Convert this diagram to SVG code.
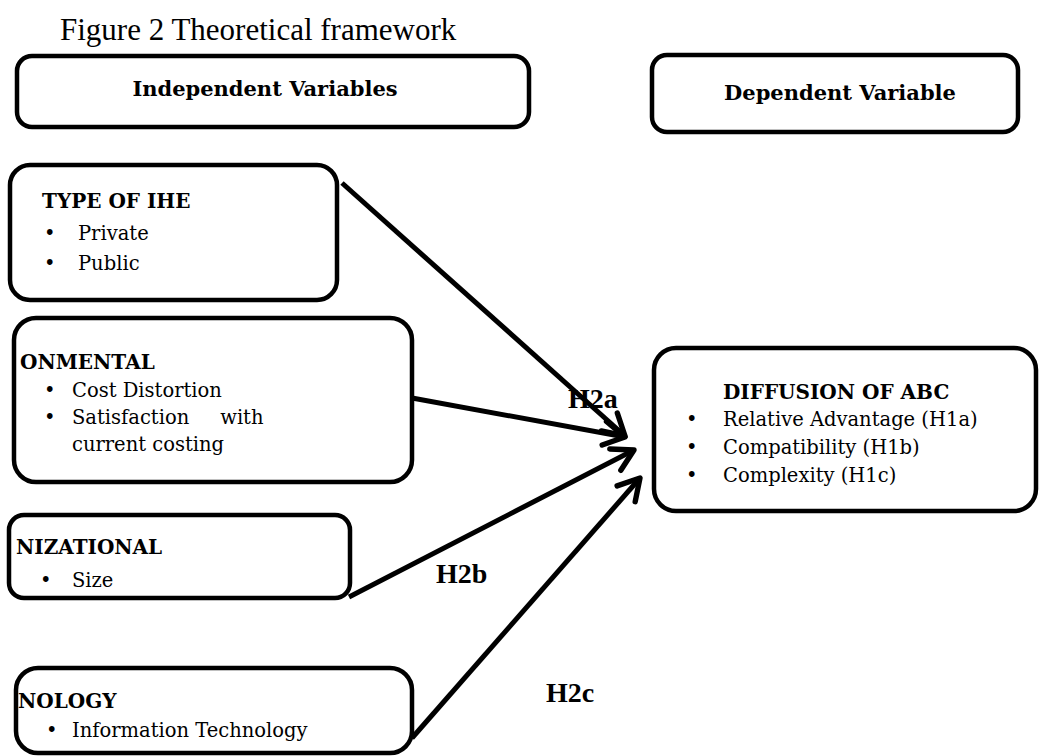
<svg xmlns="http://www.w3.org/2000/svg" width="1039" height="756" viewBox="0 0 1039 756">
<style>
.box{fill:#fff;stroke:#000;stroke-width:4.5}
.hd{font-family:"DejaVu Serif","Liberation Serif",serif;font-weight:bold;font-size:20px;fill:#000}
.hh{font-family:"DejaVu Serif","Liberation Serif",serif;font-weight:bold;font-size:21px;fill:#000}
.tx{font-family:"DejaVu Serif","Liberation Serif",serif;font-size:19.5px;fill:#000}
.lb{font-family:"Liberation Serif",serif;font-weight:bold;font-size:28px;fill:#000}
.ttl{font-family:"Liberation Serif",serif;font-size:31px;fill:#000}
.con{fill:none;stroke:#000;stroke-width:5}
</style>
<defs>
<marker id="ah" viewBox="0 0 10 10" refX="9" refY="5" markerWidth="6" markerHeight="6" markerUnits="strokeWidth" orient="auto">
<polyline points="2,1 9,5 2,9" fill="none" stroke="#000" stroke-width="1.8" stroke-linecap="round" stroke-linejoin="round"/>
</marker>
</defs>
<rect width="1039" height="756" fill="#fff"/>
<text class="ttl" x="60" y="40">Figure 2 Theoretical framework</text>
<g id="indep">
<rect class="box" x="17" y="56" width="512" height="71" rx="15"/>
<text class="hh" x="265" y="96" text-anchor="middle">Independent Variables</text>
</g>
<g id="dep">
<rect class="box" x="652" y="55" width="366" height="77" rx="15"/>
<text class="hh" x="840" y="100" text-anchor="middle">Dependent Variable</text>
</g>
<g id="connectors">
<line class="con" x1="342" y1="183" x2="625" y2="436" marker-end="url(#ah)"/>
<line class="con" x1="412" y1="398" x2="625" y2="437" marker-end="url(#ah)"/>
<line class="con" x1="349" y1="597" x2="634" y2="450" marker-end="url(#ah)"/>
<line class="con" x1="412" y1="738" x2="640" y2="478" marker-end="url(#ah)"/>
</g>
<g id="ihe">
<rect class="box" x="10" y="165" width="327" height="135" rx="20"/>
<text class="hd" x="42" y="208">TYPE OF IHE</text>
<text class="tx" x="44" y="240">•</text><text class="tx" x="78" y="240">Private</text>
<text class="tx" x="44" y="270">•</text><text class="tx" x="78" y="270">Public</text>
</g>
<g id="env">
<rect class="box" x="14" y="318" width="398" height="164" rx="22"/>
<text class="hd" x="20" y="369">ONMENTAL</text>
<text class="tx" x="44" y="397">•</text><text class="tx" x="72" y="397">Cost Distortion</text>
<text class="tx" x="44" y="424">•</text><text class="tx" x="72" y="424" xml:space="preserve">Satisfaction     with</text>
<text class="tx" x="72" y="451">current costing</text>
</g>
<g id="diff">
<rect class="box" x="654" y="348" width="382" height="163" rx="22"/>
<text class="hd" x="723" y="399">DIFFUSION OF ABC</text>
<text class="tx" x="686" y="426">•</text><text class="tx" x="723" y="426">Relative Advantage (H1a)</text>
<text class="tx" x="686" y="454">•</text><text class="tx" x="723" y="454">Compatibility (H1b)</text>
<text class="tx" x="686" y="482">•</text><text class="tx" x="723" y="482">Complexity (H1c)</text>
</g>
<g id="org">
<rect class="box" x="9" y="515" width="341" height="83" rx="15"/>
<text class="hd" x="16" y="554">NIZATIONAL</text>
<text class="tx" x="40" y="587">•</text><text class="tx" x="72" y="587">Size</text>
</g>
<g id="tech">
<rect class="box" x="16" y="668" width="396" height="85" rx="22"/>
<text class="hd" x="18" y="708">NOLOGY</text>
<text class="tx" x="46" y="737">•</text><text class="tx" x="72" y="737">Information Technology</text>
</g>
<g id="labels">
<text class="lb" x="568" y="408">H2a</text>
<text class="lb" x="436" y="583">H2b</text>
<text class="lb" x="546" y="702">H2c</text>
</g>
</svg>
